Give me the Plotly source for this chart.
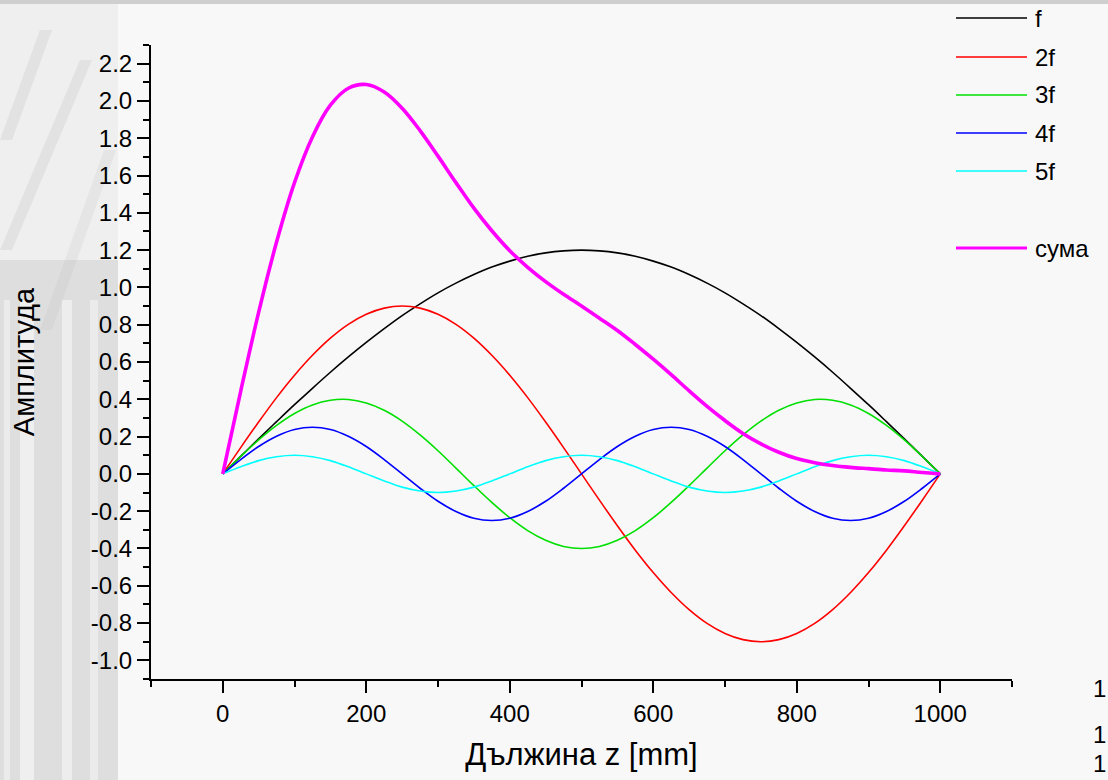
import plotly.graph_objects as go

# Position along the string, mm
z_mm = [0, 25, 50, 75, 100, 125, 150, 175, 200, 225, 250, 275, 300, 325, 350, 375,
        400, 425, 450, 475, 500, 525, 550, 575, 600, 625, 650, 675, 700, 725, 750,
        775, 800, 825, 850, 875, 900, 925, 950, 975, 1000]

# Amplitude of each harmonic
amp_f = [0, 0.094, 0.188, 0.280, 0.371, 0.459, 0.545, 0.627, 0.705, 0.779, 0.849, 0.912,
         0.971, 1.023, 1.069, 1.109, 1.141, 1.167, 1.185, 1.196, 1.200, 1.196, 1.185,
         1.167, 1.141, 1.109, 1.069, 1.023, 0.971, 0.912, 0.849, 0.779, 0.705, 0.627,
         0.545, 0.459, 0.371, 0.280, 0.188, 0.094, 0]
amp_2f = [0, 0.141, 0.278, 0.409, 0.529, 0.636, 0.728, 0.802, 0.856, 0.889, 0.900, 0.889,
          0.856, 0.802, 0.728, 0.636, 0.529, 0.409, 0.278, 0.141, 0, -0.141, -0.278,
          -0.409, -0.529, -0.636, -0.728, -0.802, -0.856, -0.889, -0.900, -0.889, -0.856,
          -0.802, -0.728, -0.636, -0.529, -0.409, -0.278, -0.141, 0]
amp_3f = [0, 0.093, 0.182, 0.260, 0.324, 0.370, 0.395, 0.399, 0.380, 0.341, 0.283, 0.209,
          0.124, 0.031, -0.063, -0.153, -0.235, -0.304, -0.356, -0.389, -0.400, -0.389,
          -0.356, -0.304, -0.235, -0.153, -0.063, 0.031, 0.124, 0.209, 0.283, 0.341,
          0.380, 0.399, 0.395, 0.370, 0.324, 0.260, 0.182, 0.093, 0]
amp_4f = [0, 0.077, 0.147, 0.202, 0.238, 0.250, 0.238, 0.202, 0.147, 0.077, 0, -0.077,
          -0.147, -0.202, -0.238, -0.250, -0.238, -0.202, -0.147, -0.077, 0, 0.077, 0.147,
          0.202, 0.238, 0.250, 0.238, 0.202, 0.147, 0.077, 0, -0.077, -0.147, -0.202,
          -0.238, -0.250, -0.238, -0.202, -0.147, -0.077, 0]
amp_5f = [0, 0.038, 0.071, 0.092, 0.100, 0.092, 0.071, 0.038, 0, -0.038, -0.071, -0.092,
          -0.100, -0.092, -0.071, -0.038, 0, 0.038, 0.071, 0.092, 0.100, 0.092, 0.071,
          0.038, 0, -0.038, -0.071, -0.092, -0.100, -0.092, -0.071, -0.038, 0, 0.038,
          0.071, 0.092, 0.100, 0.092, 0.071, 0.038, 0]
amp_sum = [0, 0.443, 0.866, 1.243, 1.562, 1.807, 1.977, 2.068, 2.088, 2.048, 1.961, 1.841,
           1.704, 1.562, 1.425, 1.304, 1.197, 1.108, 1.031, 0.963, 0.900, 0.835, 0.769,
           0.694, 0.615, 0.532, 0.445, 0.362, 0.286, 0.217, 0.161, 0.116, 0.082, 0.060,
           0.045, 0.035, 0.028, 0.021, 0.016, 0.007, 0]

series_names = ["f", "2f", "3f", "4f", "5f", "сума"]
series_values = [amp_f, amp_2f, amp_3f, amp_4f, amp_5f, amp_sum]
series_colors = ["#000000", "#ff0000", "#00e000", "#0000ff", "#00ffff", "#ff00ff"]
series_widths = [1.6, 1.6, 1.6, 1.6, 1.6, 3.6]

x_tick_vals = [0, 200, 400, 600, 800, 1000]
x_tick_labels = ["0", "200", "400", "600", "800", "1000"]
x_minor_vals = [-100, 100, 300, 500, 700, 900, 1100]
y_tick_vals = [-1.0, -0.8, -0.6, -0.4, -0.2, 0.0, 0.2, 0.4, 0.6, 0.8, 1.0, 1.2, 1.4,
               1.6, 1.8, 2.0, 2.2]
y_tick_labels = ["-1.0", "-0.8", "-0.6", "-0.4", "-0.2", "0.0", "0.2", "0.4", "0.6",
                 "0.8", "1.0", "1.2", "1.4", "1.6", "1.8", "2.0", "2.2"]
y_minor_vals = [-1.1, -0.9, -0.7, -0.5, -0.3, -0.1, 0.1, 0.3, 0.5, 0.7, 0.9, 1.1, 1.3,
                1.5, 1.7, 1.9, 2.1, 2.3]
edge_labels = ["1", "1", "1"]

W, H = 1108, 780
L, R, T, B = 151, 96, 45, 101
FONT = "Liberation Sans, Arial, sans-serif"


def px_x(px):
    return (px - L) / (W - L - R)


def px_y(py):
    return (H - B - py) / (H - T - B)


fig = go.Figure()
for name, vals, col, lw in zip(series_names, series_values, series_colors, series_widths):
    fig.add_trace(go.Scatter(x=z_mm, y=vals, name=name, mode="lines",
                             line=dict(color=col, width=lw, shape="spline", smoothing=1.0)))

shapes = []
# paper texture: grey band at the left edge and at the top
shapes.append(dict(type="rect", xref="paper", yref="paper", layer="below",
                   x0=px_x(0), x1=px_x(118), y0=px_y(780), y1=px_y(260),
                   fillcolor="#dedede", line_width=0))
shapes.append(dict(type="rect", xref="paper", yref="paper", layer="below",
                   x0=px_x(0), x1=px_x(118), y0=px_y(260), y1=px_y(0),
                   fillcolor="#efefef", line_width=0))
for x0, x1, op in [(20, 34, 0.5), (62, 72, 0.45), (90, 98, 0.4), (4, 10, 0.4)]:
    shapes.append(dict(type="rect", xref="paper", yref="paper", layer="below",
                       x0=px_x(x0), x1=px_x(x1), y0=px_y(780), y1=px_y(300),
                       fillcolor="white", opacity=op, line_width=0))
for (ax, ay, bx, by, op) in [(0, 250, 80, 60, 0.25), (40, 330, 104, 150, 0.2),
                             (0, 140, 40, 30, 0.25)]:
    shapes.append(dict(type="path", xref="paper", yref="paper", layer="below",
                       path=f"M {px_x(ax)},{px_y(ay)} L {px_x(bx)},{px_y(by)} "
                            f"L {px_x(bx + 12)},{px_y(by)} L {px_x(ax + 12)},{px_y(ay)} Z",
                       fillcolor="#bdbdbd", opacity=op, line_width=0))
shapes.append(dict(type="rect", xref="paper", yref="paper", layer="below",
                   x0=px_x(0), x1=px_x(W), y0=px_y(4), y1=px_y(0),
                   fillcolor="#cfcfcf", line_width=0))

# legend drawn beside the plot
legend_rows = [18, 57, 95, 133, 171, 248]
annotations = []
for name, col, lw, ry in zip(series_names, series_colors, series_widths, legend_rows):
    shapes.append(dict(type="line", xref="paper", yref="paper",
                       x0=px_x(956), x1=px_x(1027), y0=px_y(ry), y1=px_y(ry),
                       line=dict(color=col, width=lw if lw < 2 else 3.2)))
    annotations.append(dict(xref="paper", yref="paper", x=px_x(1033), y=px_y(ry),
                            text=name, showarrow=False, xanchor="left", yanchor="middle",
                            font=dict(family=FONT, size=24, color="black")))

# labels at the right edge of the sheet
for txt, ry, ya in zip(edge_labels, [688, 735, 779], ["middle", "middle", "bottom"]):
    annotations.append(dict(xref="paper", yref="paper", x=px_x(1108), y=px_y(ry),
                            text=txt, showarrow=False, xanchor="right", yanchor=ya,
                            font=dict(family=FONT, size=24, color="black")))

fig.update_layout(
    width=W, height=H,
    margin=dict(l=L, r=R, t=T, b=B),
    paper_bgcolor="#f8f8f8",
    plot_bgcolor="rgba(0,0,0,0)",
    showlegend=False,
    font=dict(family=FONT, color="black"),
    shapes=shapes,
    annotations=annotations,
)

axis_common = dict(showline=True, linewidth=2, linecolor="black", showgrid=False,
                   zeroline=False, ticks="outside", ticklen=12, tickwidth=2,
                   tickcolor="black", tickfont=dict(family=FONT, size=24, color="black"))

fig.update_xaxes(range=[-100, 1100], tickmode="array", tickvals=x_tick_vals,
                 ticktext=x_tick_labels,
                 minor=dict(tickmode="array", tickvals=x_minor_vals, ticks="outside",
                            ticklen=6, tickwidth=2, tickcolor="black", showgrid=False),
                 title=dict(text="Дължина z [mm]", font=dict(family=FONT, size=31),
                            standoff=18),
                 **axis_common)
fig.update_yaxes(range=[-1.1, 2.3], tickmode="array", tickvals=y_tick_vals,
                 ticktext=y_tick_labels,
                 minor=dict(tickmode="array", tickvals=y_minor_vals, ticks="outside",
                            ticklen=6, tickwidth=2, tickcolor="black", showgrid=False),
                 title=dict(text="Амплитуда", font=dict(family=FONT, size=29),
                            standoff=48),
                 **axis_common)

fig.write_html("out.html")
